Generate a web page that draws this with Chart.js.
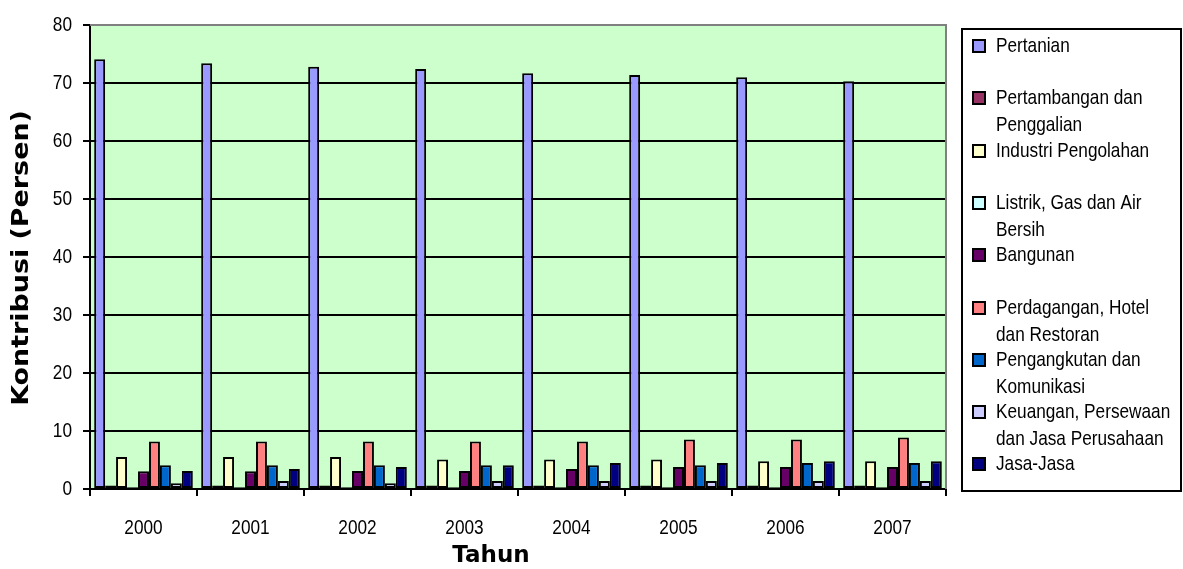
<!DOCTYPE html>
<html>
<head>
<meta charset="utf-8">
<script src="https://cdn.jsdelivr.net/npm/chart.js@4/dist/chart.umd.min.js"></script>
<style>
    body { margin: 0; background: #fff; }
    #wrap { width: 1183px; height: 569px; }
</style>
</head>
<body>
<div id="wrap"><canvas id="kontribusi" width="1183" height="569"></canvas></div>
<script>
(function () {

    var years = ['2000', '2001', '2002', '2003', '2004', '2005', '2006', '2007'];

    // kontribusi per sektor (persen)
    var pertanian    = [74.1, 73.4, 72.8, 72.4, 71.7, 71.4, 71.0, 70.3];
    var pertambangan = [0.6, 0.6, 0.6, 0.6, 0.6, 0.6, 0.6, 0.6];
    var industri     = [5.5, 5.5, 5.5, 5.1, 5.1, 5.1, 4.8, 4.8];
    var listrik      = [0.3, 0.3, 0.3, 0.3, 0.3, 0.3, 0.3, 0.3];
    var bangunan     = [3.05, 3.05, 3.1, 3.1, 3.45, 3.8, 3.8, 3.8];
    var perdagangan  = [8.2, 8.2, 8.2, 8.2, 8.2, 8.55, 8.55, 8.9];
    var pengangkutan = [4.1, 4.1, 4.1, 4.1, 4.1, 4.1, 4.5, 4.5];
    var keuangan     = [1.0, 1.4, 1.0, 1.4, 1.4, 1.4, 1.4, 1.4];
    var jasa         = [3.1, 3.45, 3.8, 4.1, 4.5, 4.5, 4.8, 4.8];

    var yTicks = [0, 10, 20, 30, 40, 50, 60, 70, 80];

    // legend text, already split the way it wraps in the box
    var sectorLines = [
        ['Pertanian'],
        ['Pertambangan dan', 'Penggalian'],
        ['Industri Pengolahan'],
        ['Listrik, Gas dan Air', 'Bersih'],
        ['Bangunan'],
        ['Perdagangan, Hotel', 'dan Restoran'],
        ['Pengangkutan dan', 'Komunikasi'],
        ['Keuangan, Persewaan', 'dan Jasa Perusahaan'],
        ['Jasa-Jasa']
    ];

    var series = [pertanian, pertambangan, industri, listrik, bangunan,
        perdagangan, pengangkutan, keuangan, jasa];

    var colors = ['#9999FF', '#993366', '#FFFFCC', '#CCFFFF', '#660066',
        '#FF8080', '#0066CC', '#CCCCFF', '#000080'];

    var baseFont = '21px "Liberation Sans", Arial, sans-serif';

    var datasets = series.map(function (values, i) {
        return {
            label: sectorLines[i].join(' '),
            data: values,
            backgroundColor: colors[i],
            borderColor: '#000',
            borderWidth: 2,
            borderSkipped: false,
            barPercentage: 1.0,
            categoryPercentage: 0.922
        };
    });

    // tall, narrow lettering used for ticks and legend
    function narrowText(ctx, text, x, y) {
        ctx.save();
        ctx.translate(x, y);
        ctx.scale(0.82, 1);
        ctx.fillText(text, 0, 0);
        ctx.restore();
    }

    //  green plot area with grey top / right frame
    var plotFrame = {
        id: 'plotFrame',
        beforeDraw: function (chart) {
            var a = chart.chartArea;
            var ctx = chart.ctx;
            ctx.save();
            ctx.fillStyle = '#CCFFCC';
            ctx.fillRect(a.left, a.top, a.right - a.left, a.bottom - a.top);
            ctx.restore();
        },
        beforeDatasetsDraw: function (chart) {
            var a = chart.chartArea;
            var ctx = chart.ctx;
            ctx.save();
            ctx.strokeStyle = '#808080';
            ctx.lineWidth = 2;
            ctx.beginPath();
            ctx.moveTo(a.left, a.top);
            ctx.lineTo(a.right, a.top);
            ctx.lineTo(a.right, a.bottom);
            ctx.stroke();
            ctx.restore();
        }
    };

    var tickLabels = {
        id: 'tickLabels',
        afterDraw: function (chart) {
            var ctx = chart.ctx;
            var xs = chart.scales.x;
            var ys = chart.scales.y;
            ctx.save();
            ctx.fillStyle = '#000';
            ctx.font = baseFont;
            ctx.textBaseline = 'middle';

            ctx.textAlign = 'center';
            xs.ticks.forEach(function (t, i) {
                narrowText(ctx, xs.getLabelForValue(t.value), xs.getPixelForTick(i), 528);
            });

            ctx.textAlign = 'right';
            ys.ticks.forEach(function (t) {
                narrowText(ctx, String(t.value), ys.left + 72, ys.getPixelForValue(t.value));
            });
            ctx.restore();
        }
    };

    var legendBox = {
        id: 'legendBox',
        afterDraw: function (chart) {
            var ctx = chart.ctx;
            ctx.save();
            ctx.strokeStyle = '#000';
            ctx.lineWidth = 2;
            ctx.strokeRect(962, 29, 219, 462);
            ctx.font = baseFont;
            ctx.textBaseline = 'middle';
            ctx.textAlign = 'left';
            chart.data.datasets.forEach(function (ds, i) {
                var y = Math.round(46 + i * 52.3);
                ctx.fillStyle = ds.backgroundColor;
                ctx.fillRect(973, y - 6, 12, 12);
                ctx.strokeRect(973, y - 6, 12, 12);
                ctx.fillStyle = '#000';
                sectorLines[i].forEach(function (line, j) {
                    narrowText(ctx, line, 996, y + j * 27);
                });
            });
            ctx.restore();
        }
    };

    var axisTitles = {
        id: 'axisTitles',
        afterDraw: function (chart) {
            var ctx = chart.ctx;
            ctx.save();
            ctx.fillStyle = '#000';
            ctx.font = 'bold 23px "DejaVu Sans", sans-serif';
            ctx.textAlign = 'center';
            ctx.textBaseline = 'middle';
            ctx.fillText('Tahun', 491, 556);
            ctx.translate(22, 258);
            ctx.rotate(-Math.PI / 2);
            ctx.scale(1.17, 1);
            ctx.fillText('Kontribusi (Persen)', 0, 0);
            ctx.restore();
        }
    };

    var ctx = document.getElementById('kontribusi').getContext('2d');

    new Chart(ctx, {
        type: 'bar',
        data: {
            labels: years,
            datasets: datasets
        },
        options: {
            responsive: false,
            animation: false,
            layout: {
                padding: { left: 0, top: 25, right: 237, bottom: 0 }
            },
            plugins: {
                legend: { display: false },
                tooltip: { enabled: false }
            },
            scales: {
                x: {
                    grid: {
                        offset: true,
                        drawOnChartArea: false,
                        color: '#000',
                        lineWidth: 2,
                        tickLength: 7
                    },
                    border: { color: '#000', width: 2 },
                    ticks: { display: false },
                    afterFit: function (scale) {
                        scale.height = 80;
                    }
                },
                y: {
                    min: 0,
                    max: 80,
                    afterBuildTicks: function (scale) {
                        scale.ticks = yTicks.map(function (v) { return { value: v }; });
                    },
                    grid: {
                        color: function (c) {
                            return c.tick && c.tick.value === 80 ? '#808080' : '#000';
                        },
                        tickColor: '#000',
                        lineWidth: 2,
                        tickLength: 7
                    },
                    border: { color: '#000', width: 2 },
                    ticks: { display: false },
                    afterFit: function (scale) {
                        scale.width = 90;
                    }
                }
            }
        },
        plugins: [plotFrame, tickLabels, legendBox, axisTitles]
    });

})();
</script>
</body>
</html>
